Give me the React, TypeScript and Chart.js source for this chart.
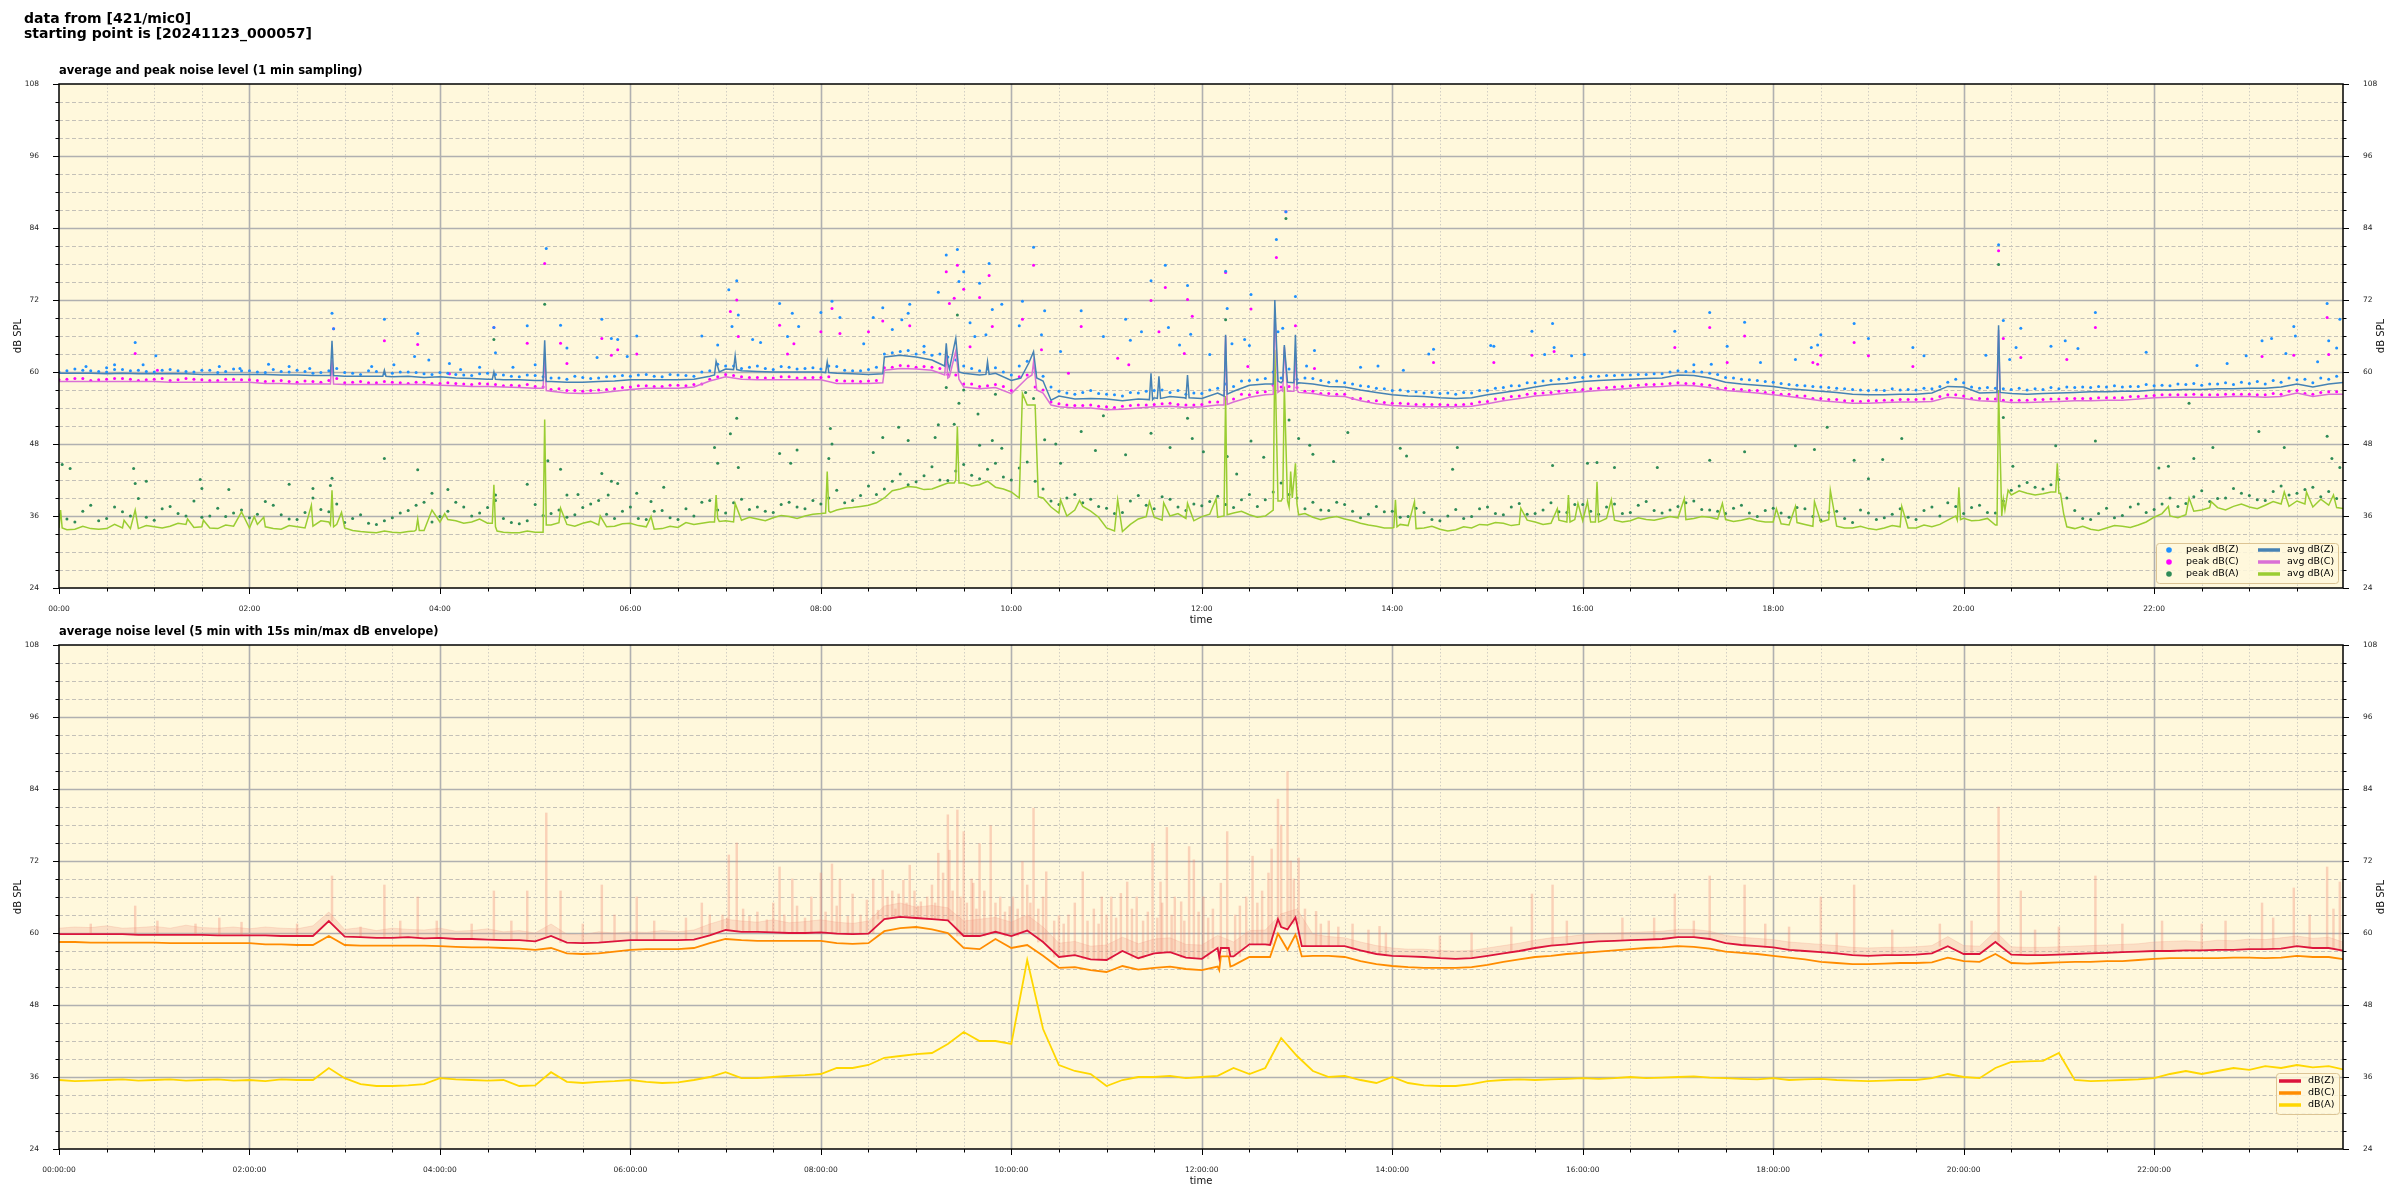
import React, { useEffect, useRef } from 'react';
import { Chart, registerables } from 'chart.js';
Chart.register(...registerables);

// ---------------- DATA (minutes since 00:00) ----------------
// top chart: 1-min averages, read every 10 min from t=0
const avgZ = [
  59.8, 59.8, 59.8, 59.7, 59.8, 59.7, 59.7, 59.7, 59.7, 59.6, 59.6, 59.6,
  59.6, 59.6, 59.5, 59.5, 59.4, 59.4, 59.3, 59.3, 59.3, 59.2, 59.3, 59.1,
  59.2, 59.0, 58.9, 58.8, 58.7, 58.7, 58.6, 58.4, 58.3, 58.3, 58.4, 58.5,
  58.7, 58.7, 58.7, 58.7, 58.8, 59.3, 60.5, 60.2, 60.1, 60.0, 60.0, 60.0,
  60.0, 59.8, 59.7, 59.6, 62.5, 62.8, 62.5, 62.0, 61.5, 59.8, 59.5, 59.8,
  58.6, 61.0, 58.5, 56.0, 55.5, 55.6, 55.5, 55.2, 55.5, 55.7, 55.9, 55.6,
  55.6, 56.5, 56.8, 57.8, 58.0, 58.2, 58.0, 58.0, 57.6, 57.5, 57.0, 56.6,
  56.2, 56.0, 55.9, 55.7, 55.6, 55.7, 56.2, 56.6, 57.0, 57.5, 57.9, 58.1,
  58.4, 58.6, 58.7, 58.8, 58.9, 59.0, 59.5, 59.4, 59.0, 58.3, 58.0, 57.8,
  57.6, 57.2, 57.0, 56.8, 56.6, 56.3, 56.2, 56.2, 56.3, 56.3, 56.5, 57.6,
  57.5, 56.5, 56.6, 56.4, 56.3, 56.4, 56.5, 56.6, 56.7, 56.7, 56.8, 56.8,
  57.0, 57.0, 57.1, 57.1, 57.2, 57.2, 57.3, 57.3, 57.5, 58.0, 57.5, 58.0,
  58.3,
];
const avgC = [
  58.4, 58.4, 58.4, 58.4, 58.4, 58.4, 58.4, 58.3, 58.3, 58.3, 58.3, 58.3,
  58.3, 58.1, 58.1, 58.0, 58.0, 58.0, 57.9, 57.9, 57.9, 57.9, 57.9, 57.9,
  57.8, 57.7, 57.6, 57.6, 57.5, 57.4, 57.3, 56.8, 56.5, 56.4, 56.5, 56.8,
  57.1, 57.3, 57.3, 57.3, 57.5, 58.5, 59.2, 58.8, 58.7, 58.7, 58.7, 58.7,
  58.7, 58.1, 58.1, 58.1, 60.3, 60.6, 60.5, 60.3, 59.0, 57.5, 57.2, 57.4,
  56.4, 59.0, 56.5, 54.2, 54.0, 54.0, 53.7, 53.8, 54.0, 54.2, 54.3, 54.1,
  54.2, 54.5, 55.0, 55.8, 56.2, 57.0, 57.0, 56.4, 56.0, 55.9, 55.2, 54.7,
  54.4, 54.3, 54.2, 54.2, 54.2, 54.3, 54.7, 55.2, 55.6, 56.0, 56.2, 56.5,
  56.7, 56.9, 57.1, 57.3, 57.5, 57.6, 57.8, 57.7, 57.4, 56.9, 56.7, 56.5,
  56.2, 55.9, 55.6, 55.2, 55.0, 54.8, 54.8, 54.9, 55.0, 55.0, 55.1, 55.8,
  55.6, 55.2, 55.1, 54.9, 54.9, 55.0, 55.1, 55.2, 55.2, 55.3, 55.3, 55.5,
  55.7, 55.8, 55.8, 55.8, 55.8, 55.9, 55.9, 55.8, 55.9, 56.5, 55.9, 56.3,
  56.3,
];
const avgA = [
  34.0, 33.8, 33.9, 33.9, 34.0, 33.9, 34.2, 34.3, 34.6, 34.2, 33.9, 34.3,
  34.0, 34.2, 33.8, 34.2, 34.3, 35.0, 34.0, 33.4, 33.2, 33.3, 33.4, 33.6,
  35.0, 35.2, 35.0, 34.8, 33.3, 33.2, 33.3, 34.5, 34.6, 34.8, 34.5, 34.3,
  34.8, 34.2, 33.9, 34.1, 34.6, 35.0, 35.2, 35.3, 35.5, 35.7, 35.9, 36.0,
  36.4, 37.0, 37.4, 37.8, 39.0, 40.5, 40.8, 40.5, 41.5, 41.5, 41.2, 40.8,
  40.0, 54.5, 39.0, 36.5, 37.0, 36.8, 34.0, 33.4, 35.5, 35.8, 36.0, 35.6,
  35.9, 35.8, 36.5, 36.2, 36.0, 38.5, 38.0, 35.8, 35.7, 35.5, 34.8, 34.3,
  34.0, 34.4, 34.0, 33.8, 33.7, 34.0, 34.5, 34.8, 34.6, 35.0, 34.8, 35.0,
  35.2, 35.0, 35.3, 35.2, 35.4, 35.6, 35.7, 35.6, 35.8, 35.4, 35.3, 35.2,
  35.0, 34.5, 34.6, 35.0, 34.3, 34.0, 33.9, 34.0, 34.2, 34.0, 34.2, 35.3,
  35.6, 35.3, 34.5, 39.5, 39.8, 39.7, 39.8, 33.9, 33.8, 34.0, 34.3, 34.5,
  35.8, 36.0, 36.2, 37.0, 37.4, 37.6, 37.5, 37.8, 38.0, 38.5, 37.5, 37.8,
  37.2,
];
// avg dB(A) read in between, every 10 min from t=5
const avgAMid = [
  33.7, 34.3, 33.8, 34.6, 33.9, 34.4, 34.0, 34.8, 34.1, 34.0, 34.5, 33.9,
  34.6, 33.9, 34.4, 34.0, 35.2, 34.6, 33.6, 33.3, 33.5, 33.2, 33.7, 34.8,
  35.4, 34.8, 35.5, 34.2, 33.2, 33.5, 34.2, 34.9, 34.3, 35.1, 34.2, 34.7,
  34.4, 33.8, 34.3, 34.9, 34.8, 35.6, 35.0, 35.8, 35.2, 36.1, 35.6, 36.3,
  36.8, 37.3, 37.6, 38.2, 40.2, 40.9, 40.4, 41.0, 42.0, 41.0, 41.8, 40.5,
  39.0, 55.0, 37.5, 36.0, 37.6, 35.8, 33.5, 34.6, 35.9, 35.3, 36.4, 35.2,
  36.3, 35.5, 36.8, 35.8, 37.0, 37.5, 36.4, 35.4, 35.9, 35.2, 34.5, 34.0,
  34.6, 33.9, 34.3, 33.5, 34.2, 34.6, 34.9, 34.4, 35.3, 34.6, 35.3, 35.4,
  35.0, 35.6, 35.0, 35.7, 35.3, 35.9, 35.4, 35.9, 35.5, 35.1, 35.6, 35.0,
  34.7, 34.9, 34.3, 35.4, 34.0, 34.3, 33.7, 34.4, 34.0, 34.5, 34.6, 36.0,
  35.2, 35.6, 38.8, 40.2, 39.5, 40.0, 34.2, 34.3, 33.6, 34.4, 34.1, 35.0,
  36.4, 35.7, 36.8, 37.4, 37.0, 38.0, 37.2, 38.4, 37.6, 38.0, 38.8, 37.4,
];
// short events in the 1-min averages: [minute, dB]
const avgZEvents = [
  [171, 59.4], [172, 65.2], [173, 59.4], [204, 59.3], [205, 60.3], [206, 59.3],
  [273, 58.8], [274, 60.0], [275, 58.8], [305, 58.6], [306, 65.3], [307, 58.4],
  [413, 59.5], [414, 61.8], [416, 60.0], [425, 60.4], [426, 62.7], [427, 60.4],
  [483, 59.9], [484, 61.7], [485, 59.9], [519, 59.7],
  [558, 61.0], [559, 64.8], [561, 60.5], [565, 65.6], [567, 60.0],
  [584, 59.6], [585, 61.7], [586, 59.6], [606, 59.0], [611, 61.5], [614, 63.4], [616, 59.0], [625, 55.3],
  [687, 55.4], [688, 59.8], [689, 55.4], [692, 55.6], [693, 59.3], [694, 55.6], [709, 55.7], [711, 59.5], [712, 55.7],
  [734, 56.0], [735, 66.2], [736, 56.3],
  [765, 58.0], [766, 72.0], [768, 58.5], [771, 58.5], [772, 64.5], [774, 58.3], [778, 58.2], [779, 66.2], [781, 58.2],
  [1221, 56.6], [1222, 67.8], [1223, 56.6],
];
const avgCEvents = [
  [171, 58.0], [172, 62.0], [173, 58.0], [305, 57.3], [306, 63.0], [307, 56.9], [519, 58.2],
  [558, 59.5], [559, 63.0], [561, 59.2], [565, 63.5], [567, 58.8],
  [613, 59.5], [614, 61.7], [616, 57.0], [625, 54.5],
  [734, 54.5], [735, 66.0], [736, 54.6],
  [765, 56.3], [766, 70.3], [768, 56.6], [771, 56.8], [772, 64.2], [774, 56.8], [778, 56.8], [779, 63.1], [781, 56.6],
  [1221, 55.1], [1222, 67.0], [1223, 55.1],
];
const avgAEvents = [
  [1, 37.0], [2, 34.0], [41, 35.3], [48, 37.0], [81, 35.5], [91, 35.3], [115, 36.7], [123, 35.9], [129, 35.8], [159, 37.8],
  [171, 34.5], [172, 40.3], [173, 34.2], [178, 36.6], [224, 33.5], [226, 35.5], [227, 33.6], [235, 37.0], [243, 36.4],
  [273, 34.8], [274, 41.2], [276, 33.5], [305, 33.3], [306, 52.1], [307, 34.5], [316, 37.3], [341, 36.0], [373, 35.9],
  [413, 35.0], [414, 39.5], [416, 35.1], [426, 38.1], [483, 36.5], [484, 43.4], [486, 36.6],
  [564, 41.5], [566, 50.9], [567, 41.5], [605, 39.0], [607, 56.4], [615, 54.5], [617, 39.2],
  [631, 38.7], [643, 38.6], [667, 38.7], [687, 38.4], [696, 38.2], [711, 38.1], [729, 38.9],
  [734, 36.0], [735, 56.0], [736, 36.2],
  [765, 37.0], [766, 63.7], [768, 38.5], [771, 39.0], [772, 57.6], [774, 38.5], [776, 43.4], [777, 39.0], [779, 44.8], [781, 36.2],
  [841, 34.1], [842, 38.7], [843, 34.2], [854, 38.4], [921, 37.3], [944, 37.2], [950, 35.0], [951, 39.5], [952, 35.0],
  [957, 38.1], [963, 38.4], [968, 35.0], [969, 41.7], [971, 35.1], [978, 38.7], [1024, 38.9], [1048, 38.1],
  [1082, 37.2], [1094, 37.6], [1106, 38.4], [1116, 40.3], [1161, 37.6],
  [1196, 35.3], [1197, 40.8], [1198, 35.4], [1221, 34.5], [1222, 57.0], [1224, 36.0], [1226, 37.0], [1228, 40.3],
  [1258, 40.0], [1259, 44.8], [1261, 39.8], [1263, 36.4],
  [1329, 37.6], [1342, 39.0], [1356, 38.4], [1402, 40.0], [1416, 40.0], [1433, 39.5],
];
// 1-min peak values: every 10 min from t=5 and from t=0
const peakZ = [
  60.2, 60.3, 60.1, 60.4, 60.2, 60.1, 60.3, 60.2, 60.0, 60.3, 60.1, 60.2,
  60.0, 60.4, 60.0, 60.1, 59.9, 60.6, 59.8, 60.2, 59.7, 60.0, 59.9, 59.6,
  59.8, 59.5, 59.7, 59.6, 59.3, 59.5, 59.2, 59.0, 59.3, 58.9, 59.2, 59.4,
  59.5, 59.3, 59.6, 59.4, 60.0, 61.3, 61.0, 60.8, 60.6, 60.9, 60.5, 60.7,
  61.0, 60.3, 60.2, 60.8, 63.2, 63.6, 63.3, 63.0, 62.0, 60.6, 60.5, 60.0,
  61.0, 60.0, 57.5, 56.5, 56.6, 56.4, 56.2, 56.6, 56.8, 57.0, 56.9, 56.5,
  57.0, 58.0, 58.5, 58.7, 60.0, 60.5, 59.0, 58.6, 58.5, 58.0, 57.6, 57.2,
  57.0, 56.7, 56.6, 56.5, 56.6, 56.9, 57.3, 57.7, 58.2, 58.5, 58.8, 59.1,
  59.3, 59.4, 59.5, 59.6, 59.7, 60.0, 60.1, 60.0, 59.6, 59.0, 58.7, 58.4,
  58.1, 57.8, 57.6, 57.4, 57.2, 57.0, 57.0, 57.2, 57.1, 57.3, 57.6, 58.8,
  57.5, 57.4, 57.2, 57.3, 57.2, 57.4, 57.5, 57.5, 57.6, 57.7, 57.6, 57.9,
  57.8, 58.0, 58.1, 58.0, 58.2, 58.3, 58.4, 58.6, 59.0, 58.8, 59.0, 59.3,
];
const peakZ2 = [
  60.0, 60.5, 60.2, 60.0, 60.4, 60.3, 60.0, 60.4, 60.1, 60.3, 59.9, 60.5,
  60.2, 59.9, 60.1, 60.3, 59.8, 60.2, 59.9, 59.6, 60.1, 59.8, 60.0, 59.7,
  59.9, 59.6, 59.4, 59.8, 59.5, 59.2, 59.4, 59.0, 58.8, 59.1, 59.0, 59.3,
  59.3, 59.6, 59.2, 59.5, 59.3, 60.2, 61.0, 60.6, 61.0, 60.4, 60.8, 60.6,
  60.5, 60.9, 60.2, 60.4, 63.0, 63.4, 63.0, 62.8, 62.5, 61.0, 60.2, 60.7,
  59.5, 61.8, 59.3, 56.8, 56.3, 56.9, 56.3, 56.0, 56.5, 56.9, 56.6, 56.3,
  56.4, 57.3, 57.6, 58.6, 58.9, 59.0, 58.8, 58.9, 58.3, 58.2, 57.7, 57.3,
  56.9, 56.8, 56.5, 56.4, 56.3, 56.5, 56.9, 57.4, 57.7, 58.2, 58.6, 58.9,
  59.1, 59.3, 59.4, 59.5, 59.6, 59.7, 60.2, 60.1, 59.8, 59.1, 58.8, 58.6,
  58.3, 57.9, 57.7, 57.5, 57.3, 57.1, 56.9, 56.9, 57.0, 57.0, 57.2, 58.3,
  58.2, 57.3, 57.3, 57.1, 57.0, 57.1, 57.2, 57.4, 57.4, 57.5, 57.5, 57.6,
  57.7, 57.7, 57.9, 57.8, 58.0, 57.9, 58.1, 58.0, 58.3, 58.7, 58.2, 58.8,
  59.0,
];
const peakC = [
  58.8, 58.9, 58.7, 58.9, 58.8, 58.7, 58.9, 58.7, 58.8, 58.6, 58.8, 58.7,
  58.6, 58.5, 58.4, 58.5, 58.3, 58.9, 58.3, 58.2, 58.4, 58.2, 58.3, 58.1,
  58.2, 58.0, 58.1, 57.9, 57.8, 57.9, 57.5, 57.2, 56.9, 56.9, 57.1, 57.4,
  57.7, 57.6, 57.8, 57.7, 58.0, 59.2, 59.4, 59.1, 59.0, 59.2, 59.0, 59.1,
  59.2, 58.5, 58.4, 58.6, 60.8, 61.0, 60.9, 60.6, 59.5, 58.0, 57.7, 57.6,
  59.2, 57.5, 55.0, 54.5, 54.4, 54.3, 54.1, 54.4, 54.5, 54.7, 54.6, 54.5,
  55.0, 55.5, 56.3, 56.6, 57.8, 57.6, 56.8, 56.4, 56.3, 55.6, 55.1, 54.9,
  54.8, 54.6, 54.6, 54.5, 54.6, 55.0, 55.5, 55.9, 56.3, 56.5, 56.8, 57.0,
  57.2, 57.4, 57.6, 57.8, 57.9, 58.1, 58.1, 57.9, 57.3, 57.1, 56.9, 56.6,
  56.3, 56.0, 55.6, 55.4, 55.2, 55.1, 55.2, 55.3, 55.4, 55.5, 55.9, 56.2,
  55.6, 55.5, 55.3, 55.3, 55.4, 55.5, 55.6, 55.6, 55.7, 55.7, 55.9, 56.0,
  56.2, 56.2, 56.3, 56.2, 56.3, 56.3, 56.2, 56.4, 56.8, 56.4, 56.6, 56.7,
];
const peakC2 = [
  58.7, 58.9, 58.6, 58.8, 58.9, 58.6, 58.8, 58.6, 58.9, 58.7, 58.6, 58.8,
  58.7, 58.4, 58.6, 58.3, 58.4, 58.6, 58.2, 58.4, 58.2, 58.3, 58.1, 58.3,
  58.1, 58.1, 57.9, 58.0, 57.7, 57.7, 57.6, 57.1, 56.9, 56.8, 57.0, 57.2,
  57.5, 57.7, 57.6, 57.8, 57.9, 58.8, 59.6, 59.2, 59.1, 59.0, 59.2, 59.0,
  59.1, 58.6, 58.5, 58.5, 60.7, 61.1, 60.8, 60.8, 59.6, 58.0, 57.6, 57.9,
  56.9, 59.5, 57.0, 54.7, 54.4, 54.5, 54.2, 54.3, 54.5, 54.6, 54.8, 54.5,
  54.6, 55.0, 55.5, 56.2, 56.7, 57.5, 57.4, 56.8, 56.4, 56.3, 55.6, 55.2,
  54.8, 54.7, 54.6, 54.6, 54.5, 54.7, 55.1, 55.6, 56.0, 56.4, 56.6, 56.9,
  57.1, 57.3, 57.5, 57.7, 57.9, 58.0, 58.2, 58.1, 57.8, 57.3, 57.1, 56.9,
  56.6, 56.3, 56.0, 55.6, 55.4, 55.2, 55.2, 55.3, 55.4, 55.4, 55.5, 56.2,
  56.0, 55.6, 55.5, 55.3, 55.3, 55.4, 55.5, 55.6, 55.6, 55.7, 55.7, 55.9,
  56.1, 56.2, 56.2, 56.2, 56.2, 56.3, 56.3, 56.2, 56.3, 56.9, 56.3, 56.7,
  56.7,
];
const peakA = [
  35.5, 36.8, 35.2, 37.5, 36.0, 35.8, 37.2, 36.4, 38.5, 36.0, 35.9, 37.0,
  36.3, 37.8, 35.5, 36.6, 37.1, 38.0, 35.6, 34.8, 35.2, 36.5, 37.8, 35.0,
  36.8, 37.5, 36.5, 38.6, 34.9, 35.2, 36.1, 37.0, 36.2, 38.0, 36.3, 36.8,
  35.6, 36.8, 35.7, 37.2, 38.3, 37.0, 38.2, 37.1, 36.8, 37.9, 37.5, 38.6,
  39.0, 38.2, 39.4, 39.6, 41.8, 41.2, 42.7, 42.0, 43.5, 42.8, 43.8, 42.5,
  44.0, 41.8, 38.5, 39.0, 38.2, 37.6, 36.4, 38.5, 37.8, 39.2, 37.5, 38.0,
  38.4, 37.9, 38.7, 37.6, 40.0, 39.6, 37.2, 37.0, 38.3, 36.8, 36.3, 36.7,
  35.8, 37.3, 35.4, 36.0, 35.6, 37.2, 36.4, 37.5, 36.3, 37.0, 36.7, 37.9,
  36.8, 37.5, 36.4, 37.8, 36.9, 37.0, 38.2, 37.1, 36.8, 37.3, 36.5, 36.9,
  36.5, 37.4, 35.9, 36.6, 35.6, 37.0, 35.4, 36.3, 35.8, 36.9, 36.0, 37.6,
  37.4, 36.6, 38.5, 41.0, 40.8, 41.2, 39.0, 35.6, 36.4, 35.7, 37.5, 36.6,
  38.0, 37.6, 39.2, 38.4, 39.0, 39.8, 38.7, 40.1, 39.5, 40.4, 39.2, 38.9,
];
const peakA2 = [
  36.2, 35.0, 37.8, 35.6, 36.7, 38.9, 35.3, 37.6, 36.0, 35.8, 37.3, 36.5,
  35.7, 38.4, 36.2, 35.4, 39.0, 36.7, 34.9, 36.2, 34.6, 35.7, 36.9, 38.3,
  35.9, 38.3, 36.0, 37.4, 35.6, 34.7, 37.9, 36.4, 35.8, 37.4, 38.6, 35.6,
  37.5, 35.4, 36.9, 35.4, 36.0, 38.6, 36.5, 38.8, 37.5, 36.6, 38.3, 37.2,
  38.0, 40.3, 38.6, 41.0, 40.5, 43.0, 41.7, 44.2, 41.9, 44.6, 42.2, 44.8,
  42.0, 45.0, 40.5, 37.9, 39.6, 38.8, 37.3, 36.6, 39.4, 37.2, 38.8, 36.9,
  37.7, 39.3, 37.4, 39.6, 38.7, 41.5, 39.0, 38.3, 36.9, 37.9, 35.7, 37.6,
  36.8, 35.9, 36.6, 35.2, 37.1, 35.9, 37.5, 36.2, 38.1, 36.4, 38.2, 36.6,
  37.9, 36.3, 38.0, 36.6, 38.4, 36.5, 37.6, 38.5, 37.0, 36.4, 37.8, 35.9,
  37.3, 35.8, 37.2, 35.3, 36.8, 34.9, 36.5, 35.7, 37.2, 35.4, 37.5, 38.2,
  36.4, 37.8, 36.5, 40.3, 41.6, 40.5, 42.1, 36.9, 35.4, 37.3, 36.1, 38.0,
  37.1, 39.0, 38.1, 40.2, 38.9, 40.6, 39.4, 38.6, 41.0, 39.8, 40.8, 40.1,
  39.0,
];
// isolated peak readings: [minute, dB]
const peakZExtra = [
  [17, 60.9], [30, 60.7], [35, 61.2], [48, 64.9], [53, 61.2], [61, 62.7], [101, 60.9], [114, 60.6], [132, 61.3], [145, 60.9], [158, 60.6],
  [172, 69.8], [173, 67.2], [197, 60.9], [205, 68.8], [211, 61.2], [224, 62.6], [226, 66.4], [233, 62.0], [246, 61.4], [253, 60.4], [265, 60.8],
  [274, 67.4], [275, 63.2], [286, 60.8], [295, 67.7], [300, 61.2], [307, 80.6], [316, 67.8], [320, 64.0], [339, 62.4], [342, 68.8],
  [348, 65.6], [352, 65.4], [358, 62.6], [364, 66.0],
  [405, 66.0], [415, 64.5], [422, 73.7], [424, 67.6], [427, 75.2], [428, 69.5], [437, 65.4], [442, 64.9], [454, 71.4], [459, 65.9],
  [462, 69.8], [466, 67.6], [480, 69.9], [487, 71.8], [492, 69.1], [507, 64.7], [513, 69.1], [519, 70.7], [525, 67.1], [531, 68.7],
  [535, 69.8], [536, 71.3], [545, 64.3], [554, 73.3], [559, 79.5], [566, 80.4], [567, 75.1], [570, 76.7], [574, 68.2], [577, 65.9],
  [580, 74.8], [584, 66.2], [586, 78.1], [588, 70.4], [594, 71.3], [605, 67.7], [607, 71.8], [614, 80.8], [619, 66.2], [621, 70.2],
  [631, 63.4], [644, 70.2], [658, 65.9], [672, 68.8], [675, 65.3], [682, 66.7], [688, 75.2], [697, 77.8], [699, 67.4], [706, 64.5],
  [711, 74.4], [713, 66.3], [725, 62.9], [735, 76.8], [736, 70.6],
  [739, 64.7], [747, 65.4], [750, 64.4], [751, 72.9], [767, 82.1], [768, 66.7], [771, 67.3], [773, 86.7], [779, 72.6], [786, 61.0],
  [791, 63.6], [820, 60.8], [831, 61.0], [847, 60.3], [863, 63.0], [866, 63.8], [902, 64.4], [904, 64.3], [928, 66.8], [936, 62.9],
  [941, 68.1], [942, 64.1], [953, 62.7], [961, 62.9], [1018, 66.8], [1030, 61.2], [1040, 69.9], [1041, 61.3], [1051, 64.3],
  [1062, 68.3], [1072, 61.6], [1094, 62.1],
  [1104, 64.1], [1108, 64.5], [1110, 66.2], [1131, 68.1], [1140, 65.6], [1168, 64.1], [1175, 62.7], [1214, 62.8], [1222, 81.2],
  [1225, 68.6], [1229, 62.1], [1233, 64.1], [1236, 67.3], [1255, 64.3], [1264, 65.2], [1272, 63.9], [1283, 69.9], [1315, 63.3],
  [1347, 61.1], [1366, 61.4], [1378, 62.7], [1388, 65.2], [1394, 65.6], [1403, 63.1], [1408, 67.6], [1409, 66.0], [1423, 61.7],
  [1429, 71.4], [1430, 65.2], [1435, 64.0], [1437, 68.8],
];
const peakCExtra = [
  [48, 63.1], [62, 60.3], [173, 67.2], [205, 65.2], [226, 64.6], [246, 59.7], [274, 67.4], [295, 64.8], [306, 78.1], [316, 64.8],
  [320, 61.4], [342, 65.6], [348, 62.8], [352, 63.7], [364, 63.0],
  [423, 70.1], [427, 72.0], [428, 65.9], [454, 67.8], [459, 63.0], [463, 64.7], [480, 66.7], [487, 70.6], [492, 66.4], [510, 66.7],
  [519, 68.5], [536, 67.7], [559, 76.7], [561, 71.4], [564, 72.3], [566, 77.8], [570, 73.8], [574, 64.2], [580, 72.4], [586, 76.1],
  [588, 67.6], [607, 68.8], [614, 77.8], [619, 63.7], [636, 59.8], [644, 67.6], [667, 62.3], [674, 61.2], [688, 71.9], [693, 66.7],
  [697, 74.1], [709, 63.1], [711, 72.1], [714, 69.3], [735, 76.6],
  [749, 60.9], [751, 70.5], [767, 79.1], [773, 86.7], [779, 67.7], [791, 60.6], [866, 61.6], [904, 61.6], [928, 62.8], [942, 63.4],
  [1018, 64.1], [1040, 67.4], [1051, 61.6], [1062, 66.0], [1105, 61.6],
  [1108, 61.3], [1110, 62.8], [1131, 64.9], [1140, 62.7], [1168, 60.9], [1222, 80.2], [1225, 65.6], [1236, 62.4], [1265, 62.1],
  [1283, 67.4], [1388, 62.6], [1408, 62.8], [1429, 69.1], [1430, 62.9],
];
const peakAExtra = [
  [2, 44.6], [7, 43.9], [47, 43.9], [48, 41.4], [55, 41.8], [89, 42.1], [90, 40.6], [107, 40.4], [145, 41.3], [160, 40.6],
  [171, 41.1], [172, 42.3], [205, 45.6], [226, 43.7], [235, 39.8], [245, 40.4], [274, 65.4], [275, 39.5], [295, 41.3], [306, 71.3],
  [308, 45.2], [316, 43.8], [320, 39.5], [327, 39.6], [342, 43.1], [346, 39.5], [348, 41.8], [352, 41.4], [364, 39.8], [373, 38.4],
  [381, 40.8], [413, 47.4], [415, 44.8], [423, 49.7], [427, 52.3], [428, 44.1], [454, 46.4], [461, 44.8], [465, 47.0], [485, 45.6],
  [486, 50.6], [487, 48.0], [513, 46.6], [519, 49.1], [529, 50.8], [535, 48.6], [552, 49.1], [554, 51.2], [559, 57.4], [564, 51.3],
  [566, 69.5], [567, 54.8], [570, 57.0], [579, 53.0], [580, 47.8], [588, 48.6], [590, 56.3], [594, 47.3], [609, 56.6], [614, 55.6],
  [621, 48.7], [628, 48.0], [631, 44.8], [644, 50.1], [653, 46.9], [658, 52.7], [672, 46.2], [688, 49.8], [700, 47.4], [711, 52.3],
  [714, 48.9], [721, 46.7], [735, 68.7], [736, 45.9], [742, 43.0],
  [751, 48.5], [759, 45.8], [773, 85.6], [775, 52.0], [781, 48.9], [788, 47.8], [790, 46.3], [803, 45.1], [812, 49.9], [845, 47.3],
  [849, 46.0], [878, 43.8], [881, 47.4], [941, 44.4], [963, 44.8], [969, 44.9], [980, 44.1], [1007, 44.1], [1040, 45.3],
  [1062, 46.7], [1094, 47.7],
  [1106, 47.1], [1114, 50.8], [1131, 45.3], [1140, 42.2], [1149, 45.4], [1161, 48.9], [1222, 77.9], [1225, 52.4], [1231, 44.3],
  [1258, 47.7], [1283, 48.5], [1323, 44.0], [1329, 44.3], [1342, 54.8], [1345, 45.6], [1357, 47.4], [1386, 50.1], [1402, 47.4],
  [1429, 49.3], [1432, 45.6], [1437, 44.1],
];

// bottom chart: 5-min averages, read every 10 min from t=0
const dbZ = [
  59.8, 59.8, 59.8, 59.8, 59.8, 59.7, 59.7, 59.7, 59.7, 59.7, 59.6, 59.6,
  59.6, 59.6, 59.5, 59.5, 59.5, 62.0, 59.4, 59.3, 59.2, 59.2, 59.3, 59.1,
  59.2, 59.0, 59.0, 58.9, 58.8, 58.8, 58.6, 59.5, 58.4, 58.3, 58.4, 58.6,
  58.8, 58.8, 58.8, 58.8, 58.9, 59.6, 60.5, 60.2, 60.2, 60.1, 60.0, 60.0,
  60.1, 59.9, 59.8, 59.9, 62.3, 62.7, 62.5, 62.3, 62.1, 59.5, 59.5, 60.2,
  59.5, 60.4, 58.5, 56.0, 56.3, 55.6, 55.5, 57.0, 55.8, 56.6, 56.8, 55.9,
  55.7, 57.5, 56.1, 58.1, 58.1, 61.0, 61.5, 57.8, 57.8, 57.8, 57.1, 56.5,
  56.2, 56.1, 56.0, 55.8, 55.7, 55.8, 56.2, 56.6, 57.0, 57.5, 57.9, 58.1,
  58.4, 58.6, 58.7, 58.8, 58.9, 59.0, 59.3, 59.3, 59.0, 58.3, 58.0, 57.8,
  57.6, 57.2, 57.0, 56.8, 56.6, 56.3, 56.2, 56.3, 56.3, 56.4, 56.6, 57.8,
  56.5, 56.5, 58.5, 56.4, 56.3, 56.3, 56.4, 56.5, 56.6, 56.7, 56.8, 56.9,
  57.0, 57.0, 57.1, 57.1, 57.2, 57.2, 57.3, 57.3, 57.4, 57.8, 57.5, 57.5,
  57.0,
];
const dbZEvents = [
  [731, 55.9], [732, 57.5], [737, 57.5], [738, 56.1], [763, 58.0], [768, 62.3], [774, 60.6], [779, 62.6], [783, 57.8],
];
const dbC = [
  58.5, 58.5, 58.4, 58.4, 58.4, 58.4, 58.4, 58.3, 58.3, 58.3, 58.3, 58.3,
  58.3, 58.1, 58.1, 58.0, 58.0, 59.5, 58.0, 57.9, 57.9, 57.9, 57.9, 57.9,
  57.8, 57.7, 57.6, 57.6, 57.5, 57.4, 57.2, 57.5, 56.6, 56.5, 56.6, 56.9,
  57.2, 57.3, 57.3, 57.3, 57.5, 58.3, 59.0, 58.8, 58.7, 58.7, 58.7, 58.7,
  58.7, 58.3, 58.2, 58.3, 60.3, 60.8, 61.0, 60.6, 60.0, 57.5, 57.3, 59.0,
  57.5, 58.0, 56.2, 54.2, 54.3, 53.8, 53.5, 54.5, 53.9, 54.2, 54.4, 54.0,
  53.8, 54.4, 54.6, 56.0, 56.0, 59.0, 59.0, 56.2, 56.2, 56.0, 55.3, 54.8,
  54.5, 54.3, 54.2, 54.2, 54.2, 54.3, 54.7, 55.2, 55.6, 56.0, 56.2, 56.5,
  56.7, 56.9, 57.1, 57.3, 57.5, 57.6, 57.8, 57.7, 57.4, 56.9, 56.7, 56.5,
  56.2, 55.9, 55.6, 55.2, 55.0, 54.8, 54.8, 54.9, 55.0, 55.0, 55.1, 55.9,
  55.3, 55.2, 56.5, 55.0, 54.9, 55.0, 55.1, 55.2, 55.2, 55.3, 55.3, 55.5,
  55.7, 55.8, 55.8, 55.8, 55.8, 55.9, 55.9, 55.8, 55.9, 56.2, 56.0, 56.0,
  55.6,
];
const dbCEvents = [
  [731, 53.8], [732, 56.1], [737, 56.1], [738, 54.4], [763, 56.0], [768, 59.9], [774, 57.2], [779, 59.7], [783, 56.1],
];
const dbA = [
  35.5, 35.3, 35.4, 35.5, 35.6, 35.4, 35.5, 35.6, 35.4, 35.5, 35.6, 35.4,
  35.5, 35.3, 35.6, 35.5, 35.5, 37.5, 35.8, 34.8, 34.5, 34.5, 34.6, 34.8,
  35.8, 35.6, 35.5, 35.4, 35.5, 34.5, 34.6, 36.8, 35.2, 35.0, 35.2, 35.3,
  35.5, 35.2, 35.0, 35.1, 35.5, 36.0, 36.8, 35.8, 35.8, 36.0, 36.2, 36.3,
  36.5, 37.5, 37.5, 38.0, 39.2, 39.5, 39.8, 40.0, 41.5, 43.5, 42.0, 42.0,
  41.5, 55.5, 44.0, 38.0, 37.0, 36.5, 34.5, 35.5, 36.0, 36.0, 36.2, 35.8,
  36.0, 36.2, 37.5, 36.5, 37.5, 42.5, 39.5, 37.0, 36.0, 36.2, 35.5, 35.0,
  36.0, 35.0, 34.6, 34.5, 34.5, 34.8, 35.3, 35.5, 35.6, 35.5, 35.6, 35.7,
  35.8, 35.7, 35.8, 36.0, 35.8, 35.9, 36.0, 36.1, 35.9, 35.8, 35.7, 35.6,
  35.8, 35.5, 35.6, 35.7, 35.5, 35.4, 35.3, 35.4, 35.5, 35.5, 35.8, 36.5,
  36.0, 35.8, 37.5, 38.5, 38.6, 38.7, 40.0, 35.5, 35.3, 35.4, 35.5, 35.6,
  35.8, 36.5, 37.0, 36.5, 37.0, 37.5, 37.2, 37.8, 37.5, 38.0, 37.6, 37.8,
  37.2,
];
// 15 s max envelope of dB(Z): typical upper edge every 10 min, and short max events
const envBand = [
  60.8, 61.0, 60.9, 61.2, 60.8, 60.9, 61.1, 60.8, 61.3, 60.9, 60.8, 61.0,
  60.7, 61.0, 60.8, 60.7, 61.2, 63.5, 60.6, 60.9, 60.4, 60.8, 60.6, 60.5,
  60.8, 60.3, 60.4, 60.7, 60.2, 60.4, 60.0, 61.5, 59.8, 59.7, 60.2, 60.0,
  60.2, 60.1, 60.4, 60.2, 60.5, 61.5, 62.3, 62.0, 61.8, 62.2, 61.7, 61.9,
  62.2, 61.8, 61.6, 62.0, 64.5, 65.0, 64.3, 64.6, 64.2, 62.0, 62.3, 62.6,
  61.8, 63.0, 61.0, 58.3, 58.6, 57.8, 58.0, 59.3, 58.2, 59.0, 59.2, 58.1,
  58.0, 59.6, 58.5, 60.4, 60.5, 63.2, 64.0, 59.8, 59.4, 59.2, 58.5, 57.9,
  57.5, 57.3, 57.3, 57.1, 57.0, 57.1, 57.5, 57.9, 58.3, 58.8, 59.2, 59.4,
  59.7, 59.9, 60.0, 60.1, 60.2, 60.3, 60.6, 60.6, 60.3, 59.6, 59.3, 59.1,
  58.9, 58.5, 58.3, 58.1, 57.9, 57.6, 57.5, 57.6, 57.6, 57.7, 57.9, 59.4,
  57.9, 57.8, 60.3, 57.7, 57.6, 57.6, 57.7, 57.8, 57.9, 58.0, 58.1, 58.2,
  58.5, 58.6, 58.7, 58.5, 58.8, 58.7, 59.0, 58.9, 59.2, 59.5, 59.1, 59.3,
  58.4,
];
const envSpikes = [
  [48, 64.5], [101, 62.5], [172, 69.5], [205, 68.0], [226, 66.0], [274, 67.0], [295, 67.0], [307, 80.0], [316, 67.0],
  [342, 68.0], [364, 66.0], [405, 65.0], [422, 73.0], [427, 75.0], [454, 71.0], [462, 69.0], [480, 70.0], [487, 71.5],
  [492, 69.0], [513, 69.0], [519, 70.5], [525, 67.0], [532, 68.8], [536, 71.3], [543, 65.2], [554, 73.3], [560, 79.7],
  [561, 73.8], [566, 80.5], [570, 76.9], [576, 68.3], [580, 74.9], [587, 77.9], [593, 66.0], [599, 64.4], [607, 71.9],
  [614, 80.8], [622, 70.2], [630, 62.9], [645, 70.2], [657, 66.0], [669, 66.6], [673, 68.5], [689, 74.9], [694, 68.5],
  [698, 77.6], [707, 65.2], [712, 74.4], [715, 72.2], [732, 68.3], [736, 76.9], [752, 72.8], [768, 82.3], [774, 86.9],
  [781, 72.5], [792, 63.6], [832, 61.1], [928, 66.5], [941, 68.0], [1018, 66.5], [1040, 69.5], [1062, 68.0], [1110, 66.0],
  [1131, 68.0], [1222, 81.0], [1236, 67.0], [1283, 69.5], [1388, 65.0], [1408, 67.5], [1429, 71.0], [1437, 68.5],
  // smaller max events
  [20, 61.5], [62, 62.0], [86, 61.5], [115, 61.8], [150, 61.5], [190, 61.0], [215, 62.0], [238, 62.0], [260, 61.5],
  [285, 62.0], [330, 61.5], [350, 63.0], [375, 62.0], [395, 62.5], [410, 63.0],
  [418, 63.0], [421, 62.5], [431, 64.0], [435, 62.8], [440, 63.5], [446, 62.2], [450, 65.0], [457, 63.0], [465, 64.5],
  [470, 62.5], [474, 66.0], [483, 63.5], [490, 64.5], [497, 62.8], [500, 66.5], [505, 63.0], [509, 65.5], [516, 63.8],
  [522, 66.0], [527, 64.0], [529, 66.5], [534, 65.0], [539, 67.0], [541, 64.5], [547, 66.0], [550, 68.0], [552, 65.0],
  [557, 70.0], [563, 67.0], [568, 66.0], [572, 65.0], [575, 69.0], [578, 64.0], [583, 67.0], [590, 65.0], [596, 63.5],
  [601, 66.0], [604, 64.0], [610, 68.0], [612, 65.0], [617, 64.0], [620, 66.0], [627, 62.0], [633, 61.5],
  [636, 63.0], [640, 65.0], [648, 62.0], [652, 64.0], [655, 61.5], [660, 63.0], [663, 66.0], [666, 62.5], [676, 64.0],
  [679, 66.0], [683, 62.0], [686, 63.5], [692, 62.5], [695, 65.0], [701, 63.0], [703, 66.0], [709, 62.0], [718, 63.5],
  [721, 66.0], [724, 62.5], [727, 64.0], [741, 63.0], [744, 64.5], [748, 66.0], [755, 65.0], [758, 67.0], [762, 70.0],
  [764, 74.0], [770, 78.0], [776, 72.0], [778, 69.0], [785, 64.0],
  [795, 61.5], [800, 62.0], [806, 61.0], [815, 61.5], [825, 60.5], [836, 60.0],
  [870, 59.5], [890, 60.0], [915, 61.0], [950, 62.0], [985, 62.5], [1005, 62.5], [1030, 62.0], [1075, 61.5], [1090, 61.0],
  [1120, 60.0], [1155, 60.5], [1185, 61.5], [1205, 62.0], [1245, 60.5], [1260, 61.0], [1300, 61.5], [1325, 62.0],
  [1350, 61.5], [1365, 62.0], [1395, 62.5], [1418, 63.0], [1433, 64.0],
];

// axis labels
const yLabelValues = [24, 36, 48, 60, 72, 84, 96, 108];
const xLabelMinutes = [0, 120, 240, 360, 480, 600, 720, 840, 960, 1080, 1200, 1320];
const xLabelsShort = ['00:00', '02:00', '04:00', '06:00', '08:00', '10:00', '12:00', '14:00', '16:00', '18:00', '20:00', '22:00'];
const xLabelsLong = ['00:00:00', '02:00:00', '04:00:00', '06:00:00', '08:00:00', '10:00:00', '12:00:00', '14:00:00', '16:00:00', '18:00:00', '20:00:00', '22:00:00'];

// ---------------- helpers ----------------
const FONT = "'DejaVu Sans', sans-serif";
const BG = '#fff8dc';
const X_MAX = 1439;

const onGrid = (vals: number[], start: number, step: number) => vals.map((v, i) => [start + i * step, v]);
// merge [x, y] lists; later lists win on equal x
function merge(...parts: number[][][]) {
  const m = new Map<number, number>();
  parts.forEach((p) => p.forEach(([x, y]) => m.set(x, y)));
  return [...m.entries()].sort((a, b) => a[0] - b[0]).map(([x, y]) => ({ x, y }));
}
const pts = (pairs: number[][]) => pairs.map(([x, y]) => ({ x, y }));

type LegendItem = { kind: 'dot' | 'line'; color: string; label: string; x: number; y: number };

function makeDecor(opts: {
  title: string;
  mainTitle?: string[];
  legendBox: [number, number, number, number];
  legend: LegendItem[];
}) {
  return {
    id: 'decor',
    beforeDraw(chart: any) {
      const { ctx, chartArea: a } = chart;
      ctx.save();
      ctx.fillStyle = BG;
      ctx.fillRect(a.left, a.top, a.right - a.left, a.bottom - a.top);
      ctx.restore();
    },
    beforeDatasetsDraw(chart: any) {
      const { ctx, chartArea: a, scales } = chart;
      const xs = scales.x;
      const ys = scales.y;
      ctx.save();
      ctx.beginPath();
      ctx.rect(a.left, a.top, a.right - a.left, a.bottom - a.top);
      ctx.clip();
      const hline = (v: number) => {
        const py = Math.round(ys.getPixelForValue(v)) + 0.5;
        ctx.beginPath();
        ctx.moveTo(a.left, py);
        ctx.lineTo(a.right, py);
        ctx.stroke();
      };
      const vline = (m: number) => {
        const px = Math.round(xs.getPixelForValue(m)) + 0.5;
        ctx.beginPath();
        ctx.moveTo(px, a.top);
        ctx.lineTo(px, a.bottom);
        ctx.stroke();
      };
      ctx.lineWidth = 1;
      ctx.strokeStyle = '#c4c1b8';
      ctx.setLineDash([4, 2.5]);
      for (let v = 27; v < 108; v += 3) if (v % 12 !== 0) hline(v);
      ctx.strokeStyle = '#d2cfc4';
      ctx.setLineDash([1.5, 2]);
      for (let m = 30; m < X_MAX; m += 30) if (m % 120 !== 0) vline(m);
      ctx.setLineDash([]);
      ctx.strokeStyle = '#b0b0b0';
      ctx.lineWidth = 1.6;
      for (let v = 36; v < 108; v += 12) hline(v);
      for (let m = 120; m < X_MAX; m += 120) vline(m);
      ctx.restore();
    },
    afterDraw(chart: any) {
      const { ctx, chartArea: a, scales } = chart;
      const xs = scales.x;
      const ys = scales.y;
      ctx.save();
      ctx.strokeStyle = '#000';
      ctx.lineWidth = 1;
      const seg = (x1: number, y1: number, x2: number, y2: number) => {
        ctx.beginPath();
        ctx.moveTo(x1, y1);
        ctx.lineTo(x2, y2);
        ctx.stroke();
      };
      for (let v = 24; v <= 108; v += 3) {
        const py = Math.round(ys.getPixelForValue(v)) + 0.5;
        const len = v % 12 === 0 ? 6 : 3.5;
        seg(a.left - len, py, a.left, py);
        seg(a.right, py, a.right + len, py);
      }
      for (let m = 0; m <= X_MAX; m += 30) {
        const px = Math.round(xs.getPixelForValue(m)) + 0.5;
        const len = m % 120 === 0 ? 6 : 3.5;
        seg(px, a.bottom, px, a.bottom + len);
      }
      ctx.lineWidth = 1.5;
      ctx.strokeRect(a.left, a.top, a.right - a.left, a.bottom - a.top);

      ctx.fillStyle = '#000';
      ctx.textAlign = 'left';
      ctx.textBaseline = 'alphabetic';
      if (opts.mainTitle) {
        ctx.font = `bold 14px ${FONT}`;
        ctx.fillText(opts.mainTitle[0], 24, 23);
        ctx.fillText(opts.mainTitle[1], 24, 38);
      }
      ctx.font = `bold 11.5px ${FONT}`;
      ctx.fillText(opts.title, a.left, a.top - 10);

      ctx.font = `10px ${FONT}`;
      ctx.textAlign = 'center';
      ctx.textBaseline = 'middle';
      ctx.fillStyle = '#111';
      ctx.fillText('time', (a.left + a.right) / 2, a.bottom + 32);
      const cy = (a.top + a.bottom) / 2;
      [18, 2381].forEach((x) => {
        ctx.save();
        ctx.translate(x, cy);
        ctx.rotate(-Math.PI / 2);
        ctx.fillText('dB SPL', 0, 0);
        ctx.restore();
      });

      const [bx, by, bw, bh] = opts.legendBox;
      ctx.beginPath();
      (ctx as any).roundRect(bx + 0.5, by + 0.5, bw, bh, 3);
      ctx.fillStyle = 'rgba(255,248,220,0.85)';
      ctx.fill();
      ctx.strokeStyle = '#dcc494';
      ctx.lineWidth = 1;
      ctx.stroke();
      ctx.font = `9.5px ${FONT}`;
      ctx.textAlign = 'left';
      ctx.textBaseline = 'middle';
      opts.legend.forEach((it) => {
        if (it.kind === 'dot') {
          ctx.fillStyle = it.color;
          ctx.beginPath();
          ctx.arc(it.x, it.y, 2.8, 0, Math.PI * 2);
          ctx.fill();
          ctx.fillStyle = '#000';
          ctx.fillText(it.label, it.x + 17, it.y);
        } else {
          ctx.strokeStyle = it.color;
          ctx.lineWidth = 3.5;
          seg(it.x, it.y, it.x + 22, it.y);
          ctx.fillStyle = '#000';
          ctx.fillText(it.label, it.x + 29, it.y);
        }
      });
      ctx.restore();
    },
  };
}

function scalesFor(xLabels: string[], xAxisHeight: number) {
  const yCommon = {
    type: 'linear' as const,
    min: 24,
    max: 108,
    afterBuildTicks: (s: any) => {
      s.ticks = yLabelValues.map((v) => ({ value: v }));
    },
    ticks: { callback: (v: any) => String(v), font: { size: 7.5, family: FONT }, color: '#222', padding: 12, autoSkip: false },
    grid: { display: false },
    border: { display: false },
  };
  return {
    x: {
      type: 'linear' as const,
      min: 0,
      max: X_MAX,
      offset: false,
      afterBuildTicks: (s: any) => {
        s.ticks = xLabelMinutes.map((v) => ({ value: v }));
      },
      ticks: {
        callback: (_v: any, i: number) => xLabels[i],
        font: { size: 7.5, family: FONT },
        color: '#222',
        padding: 9,
        autoSkip: false,
        maxRotation: 0,
      },
      grid: { display: false, offset: false },
      border: { display: false },
      afterFit: (s: any) => {
        s.height = xAxisHeight;
      },
    },
    y: { ...yCommon, position: 'left' as const, afterFit: (s: any) => { s.width = 59; } },
    y2: { ...yCommon, position: 'right' as const, afterFit: (s: any) => { s.width = 57; } },
  };
}

const baseOptions = {
  responsive: false,
  animation: false as const,
  events: [] as any[],
  plugins: { legend: { display: false }, tooltip: { enabled: false } },
  elements: { point: { radius: 0 }, line: { tension: 0 } },
};

export default function App() {
  const topRef = useRef<HTMLCanvasElement>(null);
  const botRef = useRef<HTMLCanvasElement>(null);

  useEffect(() => {
    Chart.defaults.font.family = FONT;
    const dot = (data: any[], color: string) => ({
      data,
      showLine: false,
      pointRadius: 1.5,
      pointBorderWidth: 0,
      pointBackgroundColor: color,
      borderColor: color,
      backgroundColor: color,
      order: 5,
    });
    const ln = (data: any[], color: string, w: number, order: number) => ({
      data,
      borderColor: color,
      backgroundColor: color,
      borderWidth: w,
      pointRadius: 0,
      fill: false,
      order,
    });

    const top = new Chart(topRef.current!, {
      type: 'line',
      data: {
        datasets: [
          ln(merge(onGrid(avgZ, 0, 10), avgZEvents), '#4682b4', 1.5, 1) as any,
          ln(merge(onGrid(avgC, 0, 10), avgCEvents), '#da70d6', 1.5, 2) as any,
          ln(merge(onGrid(avgA, 0, 10), onGrid(avgAMid, 5, 10), avgAEvents), '#9acd32', 1.5, 3) as any,
          dot([...pts(onGrid(peakZ, 5, 10)), ...pts(onGrid(peakZ2, 0, 10)), ...pts(peakZExtra)], '#1e90ff') as any,
          dot([...pts(onGrid(peakC, 5, 10)), ...pts(onGrid(peakC2, 0, 10)), ...pts(peakCExtra)], '#ff00ff') as any,
          dot([...pts(onGrid(peakA, 5, 10)), ...pts(onGrid(peakA2, 0, 10)), ...pts(peakAExtra)], '#2e8b57') as any,
        ],
      },
      options: {
        ...baseOptions,
        layout: { padding: { top: 84, left: 0, right: 0, bottom: 0 } },
        scales: scalesFor(xLabelsShort, 52) as any,
      } as any,
      plugins: [
        makeDecor({
          title: 'average and peak noise level (1 min sampling)',
          mainTitle: ['data from [421/mic0]', 'starting point is [20241123_000057]'],
          legendBox: [2156, 543, 182, 40],
          legend: [
            { kind: 'dot', color: '#1e90ff', label: 'peak dB(Z)', x: 2169, y: 550 },
            { kind: 'dot', color: '#ff00ff', label: 'peak dB(C)', x: 2169, y: 562 },
            { kind: 'dot', color: '#2e8b57', label: 'peak dB(A)', x: 2169, y: 574 },
            { kind: 'line', color: '#4682b4', label: 'avg dB(Z)', x: 2258, y: 550 },
            { kind: 'line', color: '#da70d6', label: 'avg dB(C)', x: 2258, y: 562 },
            { kind: 'line', color: '#9acd32', label: 'avg dB(A)', x: 2258, y: 574 },
          ],
        }) as any,
      ],
    });

    const zAt = (t: number) => dbZ[Math.min(dbZ.length - 1, Math.round(t / 10))];
    const bot = new Chart(botRef.current!, {
      type: 'line',
      data: {
        datasets: [
          ln(merge(onGrid(dbZ, 0, 10), dbZEvents), '#dc143c', 1.8, 1) as any,
          ln(merge(onGrid(dbC, 0, 10), dbCEvents), '#ff8c00', 1.8, 2) as any,
          ln(onGrid(dbA, 0, 10).map(([x, y]) => ({ x, y })), '#ffd700', 1.8, 3) as any,
          {
            data: merge(onGrid(envBand, 0, 10)),
            borderColor: 'rgba(240,150,130,0.25)',
            backgroundColor: 'rgba(240,150,130,0.24)',
            borderWidth: 1,
            pointRadius: 0,
            fill: 0,
            order: 6,
          } as any,
          {
            type: 'bar',
            data: envSpikes.map(([x, y]) => ({ x, y: [zAt(x), y] })),
            backgroundColor: 'rgba(240,140,120,0.36)',
            borderWidth: 0,
            barThickness: 1.8,
            grouped: false,
            order: 7,
          } as any,
        ],
      },
      options: {
        ...baseOptions,
        layout: { padding: { top: 45, left: 0, right: 0, bottom: 0 } },
        scales: scalesFor(xLabelsLong, 51) as any,
      } as any,
      plugins: [
        makeDecor({
          title: 'average noise level (5 min with 15s min/max dB envelope)',
          legendBox: [2276, 473, 63, 41],
          legend: [
            { kind: 'line', color: '#dc143c', label: 'dB(Z)', x: 2279, y: 481 },
            { kind: 'line', color: '#ff8c00', label: 'dB(C)', x: 2279, y: 493 },
            { kind: 'line', color: '#ffd700', label: 'dB(A)', x: 2279, y: 505 },
          ],
        }) as any,
      ],
    });

    return () => {
      top.destroy();
      bot.destroy();
    };
  }, []);

  return (
    <div style={{ position: 'absolute', left: 0, top: 0, width: 2400, height: 1200, background: '#fff', overflow: 'hidden' }}>
      <canvas ref={topRef} width={2400} height={640} style={{ position: 'absolute', left: 0, top: 0, display: 'block' }} />
      <canvas ref={botRef} width={2400} height={600} style={{ position: 'absolute', left: 0, top: 600, display: 'block' }} />
    </div>
  );
}
